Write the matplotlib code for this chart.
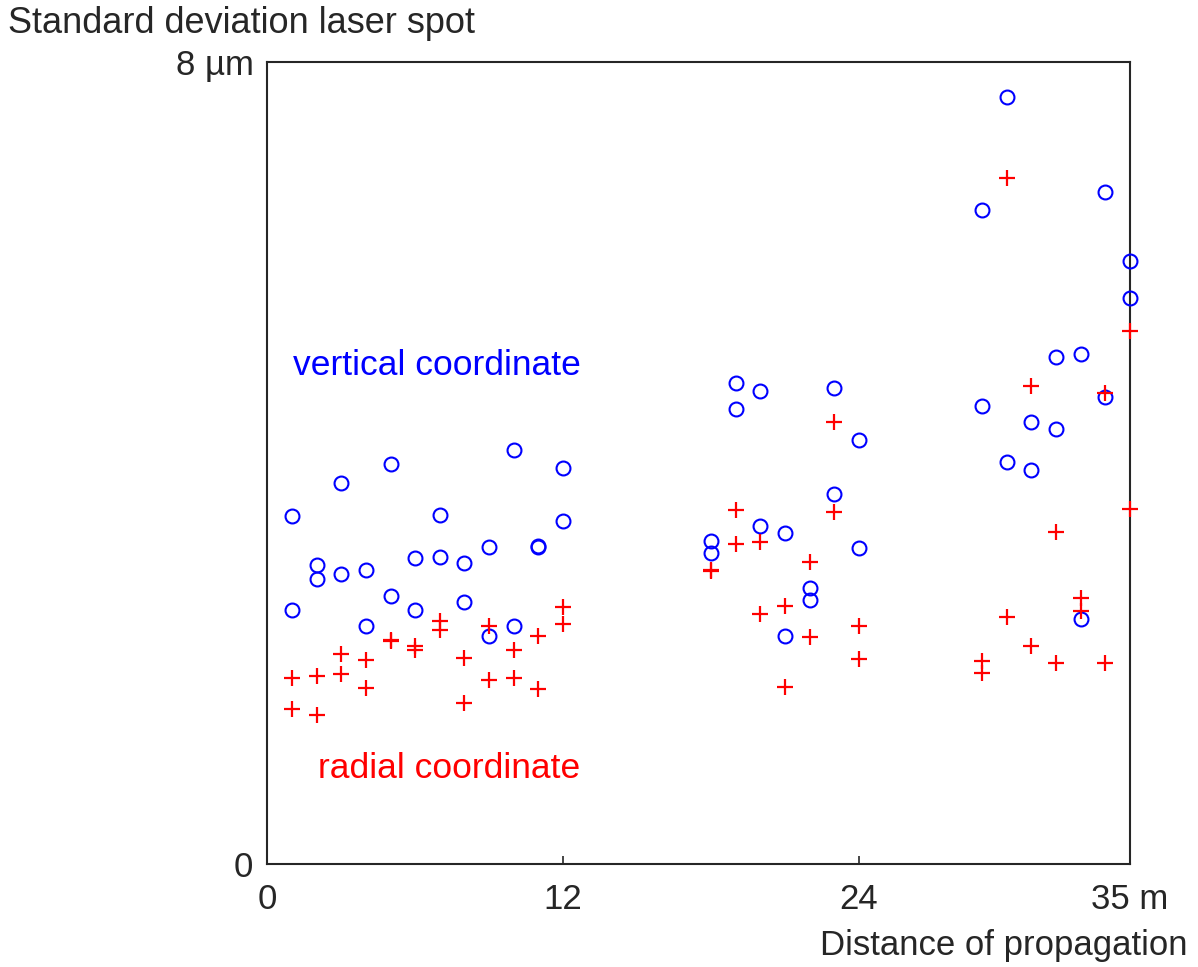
import numpy as np
import matplotlib.pyplot as plt

plt.rcParams['font.family'] = ['Liberation Sans', 'DejaVu Sans']

# distance of propagation [m], two measurements per position
dist = [1, 2, 3, 4, 5, 6, 7, 8, 9, 10, 11, 12,
        18, 19, 20, 21, 22, 23, 24,
        29, 30, 31, 32, 33, 34, 35]

# standard deviation, vertical coordinate [um]
vert_a = [3.47, 2.98, 3.80, 2.93, 3.99, 3.05, 3.48, 3.00, 3.16, 4.13, 3.16, 3.95,
          3.22, 4.80, 4.72, 3.30, 2.75, 4.75, 4.23,
          6.53, 7.66, 4.41, 5.06, 5.09, 6.71, 6.02]
vert_b = [2.54, 2.84, 2.89, 2.38, 2.67, 2.54, 3.06, 2.62, 2.28, 2.38, 3.17, 3.42,
          3.10, 4.54, 3.37, 2.28, 2.64, 3.69, 3.15,
          4.57, 4.01, 3.93, 4.34, 2.45, 4.66, 5.65]

# standard deviation, radial coordinate [um]
rad_a = [1.86, 1.88, 2.10, 2.04, 2.23, 2.18, 2.43, 2.06, 2.38, 2.14, 2.28, 2.57,
         2.93, 3.53, 3.21, 2.58, 3.01, 4.41, 2.38,
         2.03, 6.85, 4.77, 3.31, 2.66, 4.70, 5.32]
rad_b = [1.55, 1.49, 1.90, 1.76, 2.24, 2.14, 2.34, 1.61, 1.84, 1.86, 1.75, 2.40,
         2.92, 3.19, 2.50, 1.77, 2.27, 3.51, 2.05,
         1.91, 2.47, 2.18, 2.01, 2.53, 2.01, 3.54]

grey = '#262626'
fig = plt.figure(figsize=(11.98, 9.67), dpi=100)
ax = fig.add_axes([0.2231, 0.1065, 0.9432 - 0.2231, 0.9354 - 0.1065])

x = np.array(dist)
for v in (vert_a, vert_b):
    ax.plot(x, v, 'o', mfc='none', mec='b', ms=10, mew=1.5,
            clip_on=False, zorder=3)
for r in (rad_a, rad_b):
    ax.plot(x, r, '+', color='r', ms=11, mew=1.6, clip_on=False, zorder=3)

ax.set_xlim(0, 35)
ax.set_ylim(0, 8)
ax.set_xticks([0, 12, 24, 35])
ax.set_xticklabels(['0', '12', '24', '35 m'])
ax.set_yticks([0, 8])
ax.set_yticklabels(['0', '8 µm'])
ax.tick_params(direction='in', length=6, width=1.2, colors=grey,
               labelsize=25, pad=10)
ax.tick_params(axis='x', pad=14)
for s in ax.spines.values():
    s.set_color(grey)
    s.set_linewidth(1.5)

ax.text(1.05, 4.88, 'vertical coordinate', color='b', fontsize=25.5)
ax.text(2.06, 0.86, 'radial coordinate', color='r', fontsize=25.5)

fig.text(8 / 1198, 1 - 33 / 967, 'Standard deviation laser spot',
         fontsize=26, color=grey, ha='left', va='baseline')
fig.text(1188 / 1198, 1 - 955 / 967, 'Distance of propagation',
         fontsize=25, color=grey, ha='right', va='baseline')

plt.savefig('out.png', dpi=100)
